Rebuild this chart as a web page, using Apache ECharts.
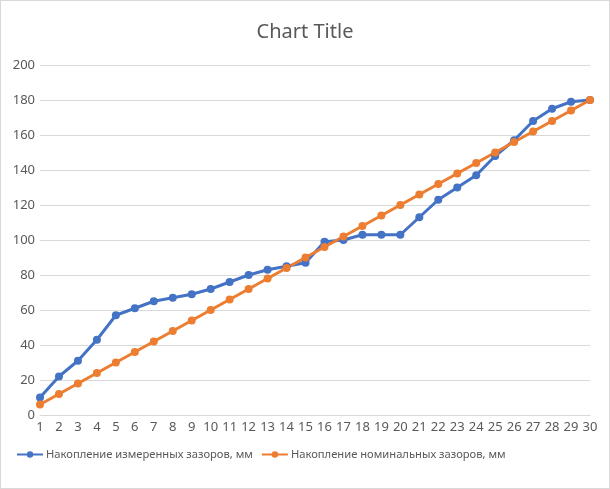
<!DOCTYPE html>
<html><head><meta charset="utf-8">
<script src="https://cdn.jsdelivr.net/npm/echarts@6/dist/echarts.min.js"></script>
<style>html,body{margin:0;padding:0;background:#fff}#c{width:608px;height:487px;border:1px solid #d9d9d9}</style>
</head><body><div id="c"></div>
<script>
var categories = ['1','2','3','4','5','6','7','8','9','10','11','12','13','14','15','16','17','18','19','20','21','22','23','24','25','26','27','28','29','30'];
var measured = [10,22,31,43,57,61,65,67,69,72,76,80,83,85,87,99,100,103,103,103,113,123,130,137,148,157,168,175,179,180];
var nominal = [6,12,18,24,30,36,42,48,54,60,66,72,78,84,90,96,102,108,114,120,126,132,138,144,150,156,162,168,174,180];
var seriesNames = ['Накопление измеренных зазоров, мм','Накопление номинальных зазоров, мм'];
var chart = echarts.init(document.getElementById('c'));
var font = 'Noto Sans';
chart.setOption({
  animation:false,
  title:{text:'Chart Title',left:'center',top:16,textStyle:{fontFamily:font,fontSize:20,fontWeight:'normal',color:'#595959'}},
  grid:{left:39,right:19,top:64,bottom:73},
  legend:{bottom:28,left:15,padding:0,itemGap:8,itemWidth:26,itemHeight:8,textStyle:{fontFamily:font,fontSize:11.2,color:'#595959',padding:[0,0,0,-2]},
    data:seriesNames},
  xAxis:{type:'category',data:categories,boundaryGap:false,
    axisLine:{lineStyle:{color:'#d9d9d9'}},axisTick:{show:false},
    axisLabel:{interval:0,fontFamily:font,fontSize:13,color:'#595959',margin:6}},
  yAxis:{type:'value',min:0,max:200,interval:20,
    axisLine:{show:false},axisTick:{show:false},
    splitLine:{lineStyle:{color:'#d9d9d9'}},
    axisLabel:{fontFamily:font,fontSize:13,color:'#595959',margin:5}},
  series:[
    {name:seriesNames[0],type:'line',data:measured,symbol:'circle',symbolSize:8,
     itemStyle:{color:'#4472C4'},lineStyle:{width:3,color:'#4472C4'}},
    {name:seriesNames[1],type:'line',data:nominal,symbol:'circle',symbolSize:8,
     itemStyle:{color:'#ED7D31'},lineStyle:{width:3,color:'#ED7D31'}}
  ]
});
</script></body></html>
